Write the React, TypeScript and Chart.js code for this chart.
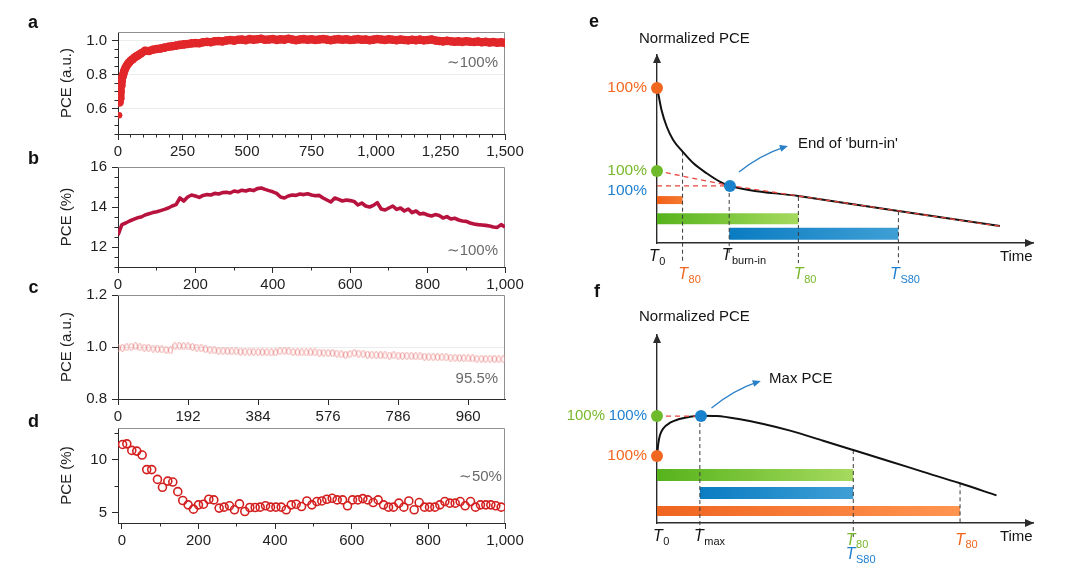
import React, { useEffect, useRef } from 'react';
import { Chart, registerables } from 'chart.js';

Chart.register(...registerables);

const FONT = "'Liberation Sans', Arial, Helvetica, sans-serif";

/* ===================== DATA ===================== */
/* panel a : PCE (a.u.) vs time */
const A_OUTLIER_T = [4];
const A_OUTLIER_PCE = [0.56];
const A_EARLY_T = [6, 8, 10, 12, 14, 17, 20, 24, 28, 33, 38, 44, 50, 57, 64, 72, 80];
const A_EARLY_PCE = [0.635, 0.66, 0.7, 0.735, 0.76, 0.785, 0.8, 0.82, 0.835, 0.85, 0.862, 0.872, 0.882, 0.89, 0.9, 0.908, 0.915];
const A_MAIN_START = 90;
const A_MAIN_STEP = 15;
const A_MAIN_PCE = [
  0.925, 0.94, 0.938, 0.946, 0.95, 0.953, 0.958, 0.963, 0.966, 0.97,
  0.974, 0.977, 0.979, 0.983, 0.985, 0.984, 0.99, 0.992, 0.99, 0.996,
  0.997, 0.995, 1.0, 1.003, 0.999, 1.004, 1.006, 1.002, 1.008, 1.005,
  1.007, 1.01, 1.004, 1.006, 1.009, 1.003, 1.007, 1.005, 1.01, 1.006,
  1.002, 1.006, 1.008, 1.004, 1.007, 1.003, 1.006, 1.009, 1.005, 1.002,
  1.006, 1.008, 1.004, 1.007, 1.003, 1.005, 1.008, 1.004, 1.006, 1.002,
  1.005, 1.009, 1.006, 1.003, 1.007, 1.004, 1.002, 1.006, 1.003, 1.001,
  1.004, 1.002, 1.005, 1.001, 1.003, 1.006, 1.0, 0.997, 0.995, 0.998,
  0.996, 0.993, 0.995, 0.992, 0.996, 0.993, 0.991, 0.994, 0.99, 0.992,
  0.988, 0.991, 0.987, 0.99, 0.986,
];
const A_X_TICKS = [0, 250, 500, 750, 1000, 1250, 1500];
const A_X_LABELS = ['0', '250', '500', '750', '1,000', '1,250', '1,500'];
const A_Y_TICKS = [0.6, 0.8, 1.0];
const A_Y_LABELS = ['0.6', '0.8', '1.0'];

/* panel b : PCE (%) */
const B_STEP = 10;
const B_PCE = [
  12.6, 13.12, 13.2, 13.3, 13.38, 13.46, 13.5, 13.6, 13.66, 13.72,
  13.76, 13.82, 13.88, 13.95, 14.05, 14.12, 14.45, 14.3, 14.5, 14.6,
  14.55, 14.48, 14.58, 14.62, 14.6, 14.68, 14.65, 14.72, 14.74, 14.7,
  14.8, 14.76, 14.84, 14.8, 14.86, 14.82, 14.92, 14.95, 14.88, 14.82,
  14.76, 14.68, 14.5, 14.45, 14.55, 14.6, 14.58, 14.65, 14.62, 14.66,
  14.6, 14.56, 14.58, 14.45, 14.35, 14.25, 14.45, 14.38, 14.3, 14.35,
  14.32, 14.28, 14.1, 14.2, 14.05, 14.0, 14.08, 14.22, 13.9, 13.85,
  13.95, 14.05, 13.88, 13.95, 13.8, 13.9, 13.72, 13.8, 13.65, 13.68,
  13.6, 13.55, 13.62, 13.58, 13.45, 13.52, 13.4, 13.44, 13.35, 13.3,
  13.28, 13.2, 13.15, 13.12, 13.1, 13.08, 13.05, 13.0, 12.98, 13.12,
  13.0,
];
const B_X_TICKS = [0, 200, 400, 600, 800, 1000];
const B_X_LABELS = ['0', '200', '400', '600', '800', '1,000'];
const B_Y_TICKS = [12, 14, 16];
const B_Y_LABELS = ['12', '14', '16'];

/* panel c : PCE (a.u.) */
const C_STEP = 12;
const C_PCE = [
  0.996, 0.997, 0.999, 1.001, 1.003, 0.999, 0.998, 0.996, 0.994, 0.993,
  0.991, 0.989, 0.987, 1.003, 1.004, 1.003, 1.002, 1.0, 0.998, 0.995,
  0.992, 0.99, 0.987, 0.985, 0.985, 0.984, 0.983, 0.983, 0.982, 0.982,
  0.982, 0.981, 0.981, 0.98, 0.98, 0.979, 0.979, 0.984, 0.986, 0.983,
  0.981, 0.98, 0.979, 0.979, 0.98, 0.979, 0.978, 0.978, 0.977, 0.976,
  0.975, 0.972, 0.969, 0.973, 0.977, 0.975, 0.972, 0.971, 0.97, 0.969,
  0.968, 0.968, 0.967, 0.968, 0.967, 0.966, 0.966, 0.965, 0.964, 0.964,
  0.963, 0.962, 0.962, 0.961, 0.961, 0.96, 0.959, 0.958, 0.958, 0.957,
  0.956, 0.956, 0.955, 0.955, 0.954, 0.955, 0.954, 0.953, 0.953,
];
const C_X_TICKS = [0, 192, 384, 576, 768, 960];
const C_X_LABELS = ['0', '192', '384', '576', '786', '960'];
const C_Y_TICKS = [0.8, 1.0, 1.2];
const C_Y_LABELS = ['0.8', '1.0', '1.2'];

/* panel d : PCE (%) */
const D_T = [
  2, 13, 26, 39, 53, 65, 78, 93, 106, 120, 133, 146, 159, 173, 187, 200, 213, 227, 240, 254,
  267, 281, 294, 307, 321, 334, 348, 361, 375, 388, 402, 416, 429, 442, 455, 469, 483, 496, 509, 522,
  535, 549, 562, 576, 589, 602, 616, 629, 642, 656, 669, 683, 696, 709, 723, 736, 749, 763, 776, 790,
  803, 817, 830, 843, 856, 870, 883, 896, 910, 923, 936, 950, 963, 976, 990,
];
const D_PCE = [
  11.44, 11.5, 10.88, 10.81, 10.44, 9.06, 9.06, 8.13, 7.38, 7.97, 7.88, 6.97, 6.13, 5.72, 5.31, 5.72, 5.78, 6.25, 6.19, 5.41,
  5.5, 5.63, 5.25, 5.81, 5.09, 5.47, 5.47, 5.5, 5.63, 5.5, 5.5, 5.5, 5.25, 5.72, 5.78, 5.56, 6.09, 5.72, 6.03, 6.09,
  6.25, 6.34, 6.19, 6.19, 5.63, 6.19, 6.19, 6.31, 6.19, 5.94, 6.19, 5.72, 5.5, 5.5, 5.88, 5.5, 6.09, 5.25, 5.94, 5.5,
  5.5, 5.5, 5.72, 6.03, 5.88, 5.88, 6.03, 5.63, 6.03, 5.5, 5.72, 5.72, 5.72, 5.63, 5.5,
];
const D_X_TICKS = [0, 200, 400, 600, 800, 1000];
const D_X_LABELS = ['0', '200', '400', '600', '800', '1,000'];
const D_Y_TICKS = [5, 10];
const D_Y_LABELS = ['5', '10'];

const RETENTION = ['\u223C100%', '\u223C100%', '95.5%', '\u223C50%'];

/* panel e : schematic, burn-in decay (time, normalized PCE) */
const E_CURVE_T = [0, 0.04, 0.12, 0.26, 0.43, 0.68, 0.97, 1.32, 1.68, 1.94, 3.76, 6.42, 9.12];
const E_CURVE_V = [1.0, 0.955, 0.858, 0.75, 0.665, 0.59, 0.514, 0.45, 0.395, 0.368, 0.303, 0.207, 0.11];
const E_DASH1_T = [0, 1.94, 9.12];
const E_DASH1_V = [0.465, 0.37, 0.108];
const E_DASH2_T = [0, 1.94];
const E_DASH2_V = [0.368, 0.368];
const E_DOT_T = [0, 0, 1.94];
const E_DOT_V = [1.0, 0.465, 0.368];
const E_BAR_T0 = [0, 0, 1.92];
const E_BAR_T1 = [0.68, 3.76, 6.42];
const E_BAR_V = [0.277, 0.156, 0.059];
const E_DROP_T = [0.68, 1.92, 3.76, 6.42];
const E_DROP_TOP = [0.589, 0.368, 0.297, 0.205];
const E_DROP_BOTTOM = [-0.131, -0.065, -0.13, -0.13];
const E_ARROW_T = [2.18, 2.74, 3.48];
const E_ARROW_V = [0.458, 0.568, 0.626];

/* panel f : schematic, rise to maximum then decay */
const F_CURVE_T = [0, 0.035, 0.08, 0.17, 0.35, 0.57, 0.88, 1.17, 1.59, 2.21, 2.83, 3.54, 4.42, 5.22, 6.2, 7.08, 8.06, 9.03];
const F_CURVE_V = [0.432, 0.514, 0.568, 0.611, 0.647, 0.669, 0.686, 0.692, 0.69, 0.669, 0.639, 0.596, 0.531, 0.471, 0.397, 0.33, 0.256, 0.178];
const F_DASH_T = [0, 1.17];
const F_DASH_V = [0.69, 0.69];
const F_DOT_T = [0, 0, 1.17];
const F_DOT_V = [0.432, 0.69, 0.69];
const F_BAR_T0 = [0, 1.14, 0];
const F_BAR_T1 = [5.22, 5.22, 8.06];
const F_BAR_V = [0.31, 0.194, 0.077];
const F_DROP_T = [1.14, 5.22, 8.06];
const F_DROP_TOP = [0.69, 0.471, 0.256];
const F_DROP_BOTTOM = [-0.045, -0.09, -0.015];
const F_ARROW_T = [1.45, 2.03, 2.76];
const F_ARROW_V = [0.742, 0.858, 0.916];

/* ===================== STYLE ===================== */
const AX = '#2b2b2b';
const TXT = '#1e1e1e';
const NOTE = '#6a6a6a';
const INK = '#141414';
const C_ORANGE = '#f2671f';
const C_GREEN = '#6fba2a';
const C_BLUE = '#1a82cc';
const T_GREEN = '#78b82a';
const T_BLUE = '#1f7fd0';
const C_RED_DASH = '#e8453c';
const C_ARROW = '#2a80c8';

const E_DOT_COLORS = [C_ORANGE, C_GREEN, C_BLUE];
const E_BAR_W = [8, 11, 12];
const E_BAR_C0 = ['#f2601a', '#56b31c', '#0a7cc2'];
const E_BAR_C1 = ['#f47a30', '#a6da5e', '#3f9fd5'];
const F_DOT_COLORS = [C_ORANGE, C_GREEN, C_BLUE];
const F_BAR_W = [12, 12, 10];
const F_BAR_C0 = ['#56b31c', '#0a7cc2', '#ef6420'];
const F_BAR_C1 = ['#a6da5e', '#3f9fd5', '#ff9550'];

/* ===================== HELPERS ===================== */
function range(a: number, b: number, step: number) {
  const out: number[] = [];
  for (let i = 0; a + i * step <= b + 1e-9; i++) out.push(+(a + i * step).toFixed(6));
  return out;
}
const pts = (t: number[], v: number[]) => t.map((x, i) => ({ x, y: v[i] }));

/* elongated ring marker used by panel c */
function ringMarker(w: number, h: number, color: string) {
  const c = document.createElement('canvas');
  c.width = w;
  c.height = h;
  const g = c.getContext('2d') as CanvasRenderingContext2D;
  g.strokeStyle = color;
  g.lineWidth = 1;
  g.beginPath();
  g.ellipse(w / 2, h / 2, w / 2 - 0.6, h / 2 - 0.6, 0, 0, Math.PI * 2);
  g.stroke();
  return c;
}

type Part = { t: string; it?: boolean; sub?: boolean };
type Lbl = { x: number; y: number; parts: Part[]; color: string; size: number; align?: 'left' | 'right' | 'center' };

function textPlugin(labels: Lbl[]) {
  return {
    id: 'txt',
    afterDraw(chart: any) {
      const ctx = chart.ctx;
      const sx = chart.scales.x;
      const sy = chart.scales.y;
      ctx.save();
      ctx.textBaseline = 'middle';
      ctx.textAlign = 'left';
      labels.forEach((l) => {
        const px = sx.getPixelForValue(l.x);
        const py = sy.getPixelForValue(l.y);
        const subSize = Math.round(l.size * 0.7);
        const fonts = l.parts.map((p) => `${p.it ? 'italic ' : ''}${p.sub ? subSize : l.size}px ${FONT}`);
        const widths = l.parts.map((p, i) => {
          ctx.font = fonts[i];
          return ctx.measureText(p.t).width;
        });
        const total = widths.reduce((s, w) => s + w, 0);
        let cx = l.align === 'right' ? px - total : l.align === 'center' ? px - total / 2 : px;
        l.parts.forEach((p, i) => {
          ctx.font = fonts[i];
          ctx.fillStyle = l.color;
          ctx.fillText(p.t, cx, py + (p.sub ? l.size * 0.33 : 0));
          cx += widths[i] + (p.it ? 0.5 : 0);
        });
      });
      ctx.restore();
    },
  };
}

const framePlugin = {
  id: 'frame',
  beforeDatasetsDraw(chart: any) {
    const { ctx, chartArea: a } = chart;
    ctx.save();
    ctx.strokeStyle = '#8f8f8f';
    ctx.lineWidth = 1;
    ctx.beginPath();
    ctx.moveTo(a.left, Math.round(a.top) + 0.5);
    ctx.lineTo(Math.round(a.right) - 0.5, Math.round(a.top) + 0.5);
    ctx.lineTo(Math.round(a.right) - 0.5, a.bottom);
    ctx.stroke();
    ctx.restore();
  },
};

interface PanelSpec {
  datasets: any[];
  xMin: number; xMax: number; xTicks: number[]; xLabels: string[]; xMinor: number[];
  yMin: number; yMax: number; yTicks: number[]; yLabels: string[]; yMinor: number[];
  yTitle: string; yGrid: boolean; padTop: number; xAxisH: number;
  note: string; noteX: number; noteY: number;
}

function panelConfig(p: PanelSpec) {
  const tickFont = { family: FONT, size: 15 };
  return {
    type: 'line',
    data: { datasets: p.datasets },
    options: {
      animation: false,
      responsive: false,
      events: [],
      layout: { padding: { left: 0, right: 25, top: p.padTop, bottom: 0 } },
      plugins: { legend: { display: false }, tooltip: { enabled: false } },
      scales: {
        x: {
          type: 'linear', axis: 'x', position: 'bottom', weight: 1, min: p.xMin, max: p.xMax,
          afterBuildTicks: (s: any) => { s.ticks = p.xTicks.map((v) => ({ value: v })); },
          afterFit: (s: any) => { s.height = p.xAxisH; },
          ticks: { autoSkip: false, maxRotation: 0, minRotation: 0, padding: 3, color: TXT, font: tickFont,
            callback: (_v: any, i: number) => p.xLabels[i] },
          grid: { drawOnChartArea: false, tickLength: 6, color: AX, lineWidth: 1 },
          border: { display: true, color: AX, width: 1 },
        },
        xm: {
          type: 'linear', axis: 'x', position: 'bottom', weight: 0, min: p.xMin, max: p.xMax,
          afterBuildTicks: (s: any) => { s.ticks = p.xMinor.map((v) => ({ value: v })); },
          afterFit: (s: any) => { s.height = 0; },
          ticks: { display: false },
          grid: { drawOnChartArea: false, tickLength: 3.5, color: AX, lineWidth: 1 },
          border: { display: false },
        },
        y: {
          type: 'linear', axis: 'y', position: 'left', weight: 1, min: p.yMin, max: p.yMax,
          afterBuildTicks: (s: any) => { s.ticks = p.yTicks.map((v) => ({ value: v })); },
          afterFit: (s: any) => { s.width = 118; },
          ticks: { padding: 5, color: TXT, font: tickFont, callback: (_v: any, i: number) => p.yLabels[i] },
          grid: { drawOnChartArea: p.yGrid, color: '#ececec', tickColor: AX, tickLength: 6, lineWidth: 1 },
          border: { display: true, color: AX, width: 1 },
          title: { display: true, text: p.yTitle, color: TXT, font: { family: FONT, size: 15 }, padding: { top: 58, bottom: 0 } },
        },
        ym: {
          type: 'linear', axis: 'y', position: 'left', weight: 0, min: p.yMin, max: p.yMax,
          afterBuildTicks: (s: any) => { s.ticks = p.yMinor.map((v) => ({ value: v })); },
          afterFit: (s: any) => { s.width = 0; },
          ticks: { display: false },
          grid: { drawOnChartArea: false, tickLength: 3.5, color: AX, lineWidth: 1 },
          border: { display: false },
        },
      },
    },
    plugins: [
      framePlugin,
      textPlugin([{ x: p.noteX, y: p.noteY, parts: [{ t: p.note }], color: NOTE, size: 15, align: 'right' }]),
    ],
  };
}

/* ---- scheme ---- */
interface SchemeSpec {
  curve: { x: number; y: number }[];
  dashes: { x: number; y: number }[][];
  dotT: number[]; dotV: number[]; dotC: string[];
  barT0: number[]; barT1: number[]; barV: number[]; barW: number[]; barC0: string[]; barC1: string[];
  dropT: number[]; dropTop: number[]; dropBottom: number[];
  arrowT: number[]; arrowV: number[];
  labels: Lbl[];
  padLeft: number;
  padBottom: number;
}

function gradFor(t0: number, t1: number, c0: string, c1: string) {
  return (ctx: any) => {
    const ch = ctx.chart;
    const sx = ch.scales && ch.scales.x;
    if (!sx) return c0;
    const a = sx.getPixelForValue(t0);
    const b = sx.getPixelForValue(t1);
    if (!isFinite(a) || !isFinite(b) || a === b) return c0;
    const g = ch.ctx.createLinearGradient(a, 0, b, 0);
    g.addColorStop(0, c0);
    g.addColorStop(1, c1);
    return g;
  };
}

const axisArrowPlugin = {
  id: 'axisArrows',
  afterDraw(chart: any) {
    const { ctx, chartArea: a } = chart;
    ctx.save();
    ctx.fillStyle = '#2b2b2b';
    ctx.beginPath();
    ctx.moveTo(a.left, a.top - 1);
    ctx.lineTo(a.left - 4, a.top + 8);
    ctx.lineTo(a.left + 4, a.top + 8);
    ctx.closePath();
    ctx.fill();
    ctx.beginPath();
    ctx.moveTo(a.right + 1, a.bottom);
    ctx.lineTo(a.right - 8, a.bottom - 4);
    ctx.lineTo(a.right - 8, a.bottom + 4);
    ctx.closePath();
    ctx.fill();
    ctx.restore();
  },
};

function curvedArrowPlugin(t: number[], v: number[]) {
  return {
    id: 'curvedArrow',
    afterDatasetsDraw(chart: any) {
      const { ctx } = chart;
      const sx = chart.scales.x;
      const sy = chart.scales.y;
      const p = t.map((x, i) => ({ x: sx.getPixelForValue(x), y: sy.getPixelForValue(v[i]) }));
      ctx.save();
      ctx.strokeStyle = C_ARROW;
      ctx.fillStyle = C_ARROW;
      ctx.lineWidth = 1.3;
      ctx.beginPath();
      ctx.moveTo(p[0].x, p[0].y);
      ctx.quadraticCurveTo(p[1].x, p[1].y, p[2].x - 3, p[2].y + 0.8);
      ctx.stroke();
      const ang = Math.atan2(p[2].y - p[1].y, p[2].x - p[1].x);
      const L = 8, W = 3.5;
      const bx = p[2].x - L * Math.cos(ang), by = p[2].y - L * Math.sin(ang);
      ctx.beginPath();
      ctx.moveTo(p[2].x, p[2].y);
      ctx.lineTo(bx + W * Math.sin(ang), by - W * Math.cos(ang));
      ctx.lineTo(bx - W * Math.sin(ang), by + W * Math.cos(ang));
      ctx.closePath();
      ctx.fill();
      ctx.restore();
    },
  };
}

function schemeConfig(s: SchemeSpec) {
  const ds: any[] = [];
  ds.push({
    data: pts(s.dotT, s.dotV), showLine: false, pointRadius: 6, pointHoverRadius: 6, pointBorderWidth: 0,
    pointBackgroundColor: s.dotC, order: 0, clip: false,
  });
  s.dashes.forEach((d) => ds.push({
    data: d, borderColor: C_RED_DASH, borderWidth: 1.3, borderDash: [5, 4], pointRadius: 0, order: 1, clip: false,
  }));
  ds.push({
    data: s.curve, borderColor: '#111', borderWidth: 2, pointRadius: 0, cubicInterpolationMode: 'monotone', order: 2, clip: false,
  });
  s.dropT.forEach((t, i) => ds.push({
    data: [{ x: t, y: s.dropTop[i] }, { x: t, y: s.dropBottom[i] }], borderColor: '#3a3a3a', borderWidth: 1,
    borderDash: [4, 3], pointRadius: 0, order: 3, clip: false,
  }));
  s.barT0.forEach((t0, i) => ds.push({
    data: [{ x: t0, y: s.barV[i] }, { x: s.barT1[i], y: s.barV[i] }], borderWidth: s.barW[i], borderCapStyle: 'butt',
    borderColor: gradFor(t0, s.barT1[i], s.barC0[i], s.barC1[i]), pointRadius: 0, order: 4, clip: false,
  }));
  const hidden = {
    ticks: { display: false },
    grid: { display: true, drawOnChartArea: false, drawTicks: false },
    border: { display: true, color: '#2b2b2b', width: 1.4 },
  };
  return {
    type: 'line',
    data: { datasets: ds },
    options: {
      animation: false,
      responsive: false,
      events: [],
      layout: { padding: { left: s.padLeft, right: 17, top: 55, bottom: s.padBottom } },
      plugins: { legend: { display: false }, tooltip: { enabled: false } },
      scales: {
        x: { type: 'linear', min: 0, max: 10, ...hidden, afterFit: (sc: any) => { sc.height = 0; } },
        y: { type: 'linear', min: 0, max: 1.213, ...hidden, afterFit: (sc: any) => { sc.width = 0; } },
      },
    },
    plugins: [axisArrowPlugin, curvedArrowPlugin(s.arrowT, s.arrowV), textPlugin(s.labels)],
  };
}

const T = (sub: string): Part[] => [{ t: 'T', it: true }, { t: sub, sub: true }];

const E_LABELS: Lbl[] = [
  { x: -0.479, y: 1.316, parts: [{ t: 'Normalized PCE' }], color: INK, size: 15, align: 'left' },
  { x: -0.266, y: 1.0, parts: [{ t: '100%' }], color: C_ORANGE, size: 15.5, align: 'right' },
  { x: -0.266, y: 0.465, parts: [{ t: '100%' }], color: T_GREEN, size: 15.5, align: 'right' },
  { x: -0.266, y: 0.335, parts: [{ t: '100%' }], color: T_BLUE, size: 15.5, align: 'right' },
  { x: -0.213, y: -0.088, parts: T('0'), color: INK, size: 16 },
  { x: 0.566, y: -0.206, parts: T('80'), color: C_ORANGE, size: 16 },
  { x: 1.72, y: -0.084, parts: T('burn-in'), color: INK, size: 16 },
  { x: 3.64, y: -0.206, parts: T('80'), color: T_GREEN, size: 16 },
  { x: 6.2, y: -0.206, parts: T('S80'), color: T_BLUE, size: 16 },
  { x: 9.12, y: -0.088, parts: [{ t: 'Time' }], color: INK, size: 15 },
  { x: 3.75, y: 0.639, parts: [{ t: "End of 'burn-in'" }], color: INK, size: 15 },
];

const F_LABELS: Lbl[] = [
  { x: -0.479, y: 1.329, parts: [{ t: 'Normalized PCE' }], color: INK, size: 15, align: 'left' },
  { x: -1.383, y: 0.69, parts: [{ t: '100%' }], color: T_GREEN, size: 15, align: 'right' },
  { x: -0.266, y: 0.69, parts: [{ t: '100%' }], color: T_BLUE, size: 15, align: 'right' },
  { x: -0.266, y: 0.432, parts: [{ t: '100%' }], color: C_ORANGE, size: 15.5, align: 'right' },
  { x: -0.106, y: -0.09, parts: T('0'), color: INK, size: 16 },
  { x: 0.984, y: -0.09, parts: T('max'), color: INK, size: 16 },
  { x: 5.02, y: -0.11, parts: T('80'), color: T_GREEN, size: 16 },
  { x: 5.02, y: -0.206, parts: T('S80'), color: T_BLUE, size: 16 },
  { x: 7.93, y: -0.11, parts: T('80'), color: C_ORANGE, size: 16 },
  { x: 9.12, y: -0.09, parts: [{ t: 'Time' }], color: INK, size: 15 },
  { x: 2.98, y: 0.929, parts: [{ t: 'Max PCE' }], color: INK, size: 15 },
];

/* ===================== CONFIGS ===================== */
function configA() {
  const series = [
    ...pts(A_EARLY_T, A_EARLY_PCE),
    ...A_MAIN_PCE.map((v, i) => ({ x: A_MAIN_START + i * A_MAIN_STEP, y: v })),
  ];
  const red = '#e1272a';
  return panelConfig({
    datasets: [
      { data: series, xAxisID: 'x', yAxisID: 'y', borderColor: red, borderWidth: 8, pointRadius: 4.3, pointBorderWidth: 0,
        pointBackgroundColor: red, backgroundColor: red, borderJoinStyle: 'round' },
      { data: pts(A_OUTLIER_T, A_OUTLIER_PCE), xAxisID: 'x', yAxisID: 'y', showLine: false, pointRadius: 3.3,
        pointBorderWidth: 0, pointBackgroundColor: red },
    ],
    xMin: 0, xMax: 1500, xTicks: A_X_TICKS, xLabels: A_X_LABELS, xMinor: range(0, 1500, 50),
    yMin: 0.45, yMax: 1.05, yTicks: A_Y_TICKS, yLabels: A_Y_LABELS, yMinor: range(0.45, 1.0, 0.05),
    yTitle: 'PCE (a.u.)', yGrid: true, padTop: 32, xAxisH: 31,
    note: RETENTION[0], noteX: 1473, noteY: 0.868,
  });
}

function configB() {
  return panelConfig({
    datasets: [
      { data: B_PCE.map((v, i) => ({ x: i * B_STEP, y: v })), xAxisID: 'x', yAxisID: 'y', borderColor: '#b8123e',
        borderWidth: 3.6, pointRadius: 0, borderJoinStyle: 'round' },
    ],
    xMin: 0, xMax: 1000, xTicks: B_X_TICKS, xLabels: B_X_LABELS, xMinor: range(0, 1000, 100),
    yMin: 11, yMax: 16, yTicks: B_Y_TICKS, yLabels: B_Y_LABELS, yMinor: range(11, 16, 0.5),
    yTitle: 'PCE (%)', yGrid: false, padTop: 17, xAxisH: 33,
    note: RETENTION[1], noteX: 982, noteY: 11.82,
  });
}

function configC() {
  return panelConfig({
    datasets: [
      { data: C_PCE.map((v, i) => ({ x: i * C_STEP, y: v })), xAxisID: 'x', yAxisID: 'y', showLine: false,
        pointStyle: ringMarker(5, 8, '#ee9c9c'), pointRadius: 4 },
    ],
    xMin: 0, xMax: 1061, xTicks: C_X_TICKS, xLabels: C_X_LABELS, xMinor: [],
    yMin: 0.8, yMax: 1.2, yTicks: C_Y_TICKS, yLabels: C_Y_LABELS, yMinor: [],
    yTitle: 'PCE (a.u.)', yGrid: true, padTop: 15, xAxisH: 31,
    note: RETENTION[2], noteX: 1042, noteY: 0.876,
  });
}

function configD() {
  return panelConfig({
    datasets: [
      { data: pts(D_T, D_PCE), xAxisID: 'x', yAxisID: 'y', showLine: false, pointRadius: 4, pointBorderWidth: 1.6,
        pointBorderColor: '#d41f1f', pointBackgroundColor: 'rgba(255,255,255,0)' },
    ],
    xMin: -10, xMax: 1000, xTicks: D_X_TICKS, xLabels: D_X_LABELS, xMinor: range(0, 1000, 100),
    yMin: 4, yMax: 13, yTicks: D_Y_TICKS, yLabels: D_Y_LABELS, yMinor: range(5, 12.5, 2.5),
    yTitle: 'PCE (%)', yGrid: false, padTop: 18, xAxisH: 37,
    note: RETENTION[3], noteX: 992, noteY: 8.39,
  });
}

function configE() {
  return schemeConfig({
    curve: pts(E_CURVE_T, E_CURVE_V),
    dashes: [pts(E_DASH1_T, E_DASH1_V), pts(E_DASH2_T, E_DASH2_V)],
    dotT: E_DOT_T, dotV: E_DOT_V, dotC: E_DOT_COLORS,
    barT0: E_BAR_T0, barT1: E_BAR_T1, barV: E_BAR_V, barW: E_BAR_W, barC0: E_BAR_C0, barC1: E_BAR_C1,
    dropT: E_DROP_T, dropTop: E_DROP_TOP, dropBottom: E_DROP_BOTTOM,
    arrowT: E_ARROW_T, arrowV: E_ARROW_V,
    labels: E_LABELS,
    padLeft: 67,
    padBottom: 47,
  });
}

function configF() {
  return schemeConfig({
    curve: pts(F_CURVE_T, F_CURVE_V),
    dashes: [pts(F_DASH_T, F_DASH_V)],
    dotT: F_DOT_T, dotV: F_DOT_V, dotC: F_DOT_COLORS,
    barT0: F_BAR_T0, barT1: F_BAR_T1, barV: F_BAR_V, barW: F_BAR_W, barC0: F_BAR_C0, barC1: F_BAR_C1,
    dropT: F_DROP_T, dropTop: F_DROP_TOP, dropBottom: F_DROP_BOTTOM,
    arrowT: F_ARROW_T, arrowV: F_ARROW_V,
    labels: F_LABELS,
    padLeft: 107,
    padBottom: 58,
  });
}

/* ===================== COMPONENTS ===================== */
function ChartBox({ left, top, width, height, make }: { left: number; top: number; width: number; height: number; make: () => any }) {
  const ref = useRef<HTMLCanvasElement>(null);
  useEffect(() => {
    const chart = new Chart(ref.current as HTMLCanvasElement, make());
    return () => chart.destroy();
  }, []);
  return (
    <canvas
      ref={ref}
      width={width}
      height={height}
      style={{ position: 'absolute', left, top, width, height, display: 'block' }}
    />
  );
}

const LETTERS = [
  { t: 'a', x: 28, y: 13 },
  { t: 'b', x: 28, y: 149 },
  { t: 'c', x: 28.5, y: 278 },
  { t: 'd', x: 28, y: 411.5 },
  { t: 'e', x: 589, y: 12 },
  { t: 'f', x: 594, y: 282 },
];

export default function App() {
  return (
    <div style={{ position: 'fixed', left: 0, top: 0, width: 1080, height: 581, background: '#fff', overflow: 'hidden' }}>
      <ChartBox left={0} top={0} width={530} height={165} make={configA} />
      <ChartBox left={0} top={150} width={530} height={150} make={configB} />
      <ChartBox left={0} top={280} width={530} height={150} make={configC} />
      <ChartBox left={0} top={410} width={530} height={150} make={configD} />
      <ChartBox left={590} top={0} width={460} height={290} make={configE} />
      <ChartBox left={550} top={280} width={500} height={301} make={configF} />
      {LETTERS.map((l) => (
        <div
          key={l.t}
          style={{
            position: 'absolute', left: l.x, top: l.y, font: `bold 18px ${FONT}`, lineHeight: '18px',
            color: '#111', pointerEvents: 'none',
          }}
        >
          {l.t}
        </div>
      ))}
    </div>
  );
}
